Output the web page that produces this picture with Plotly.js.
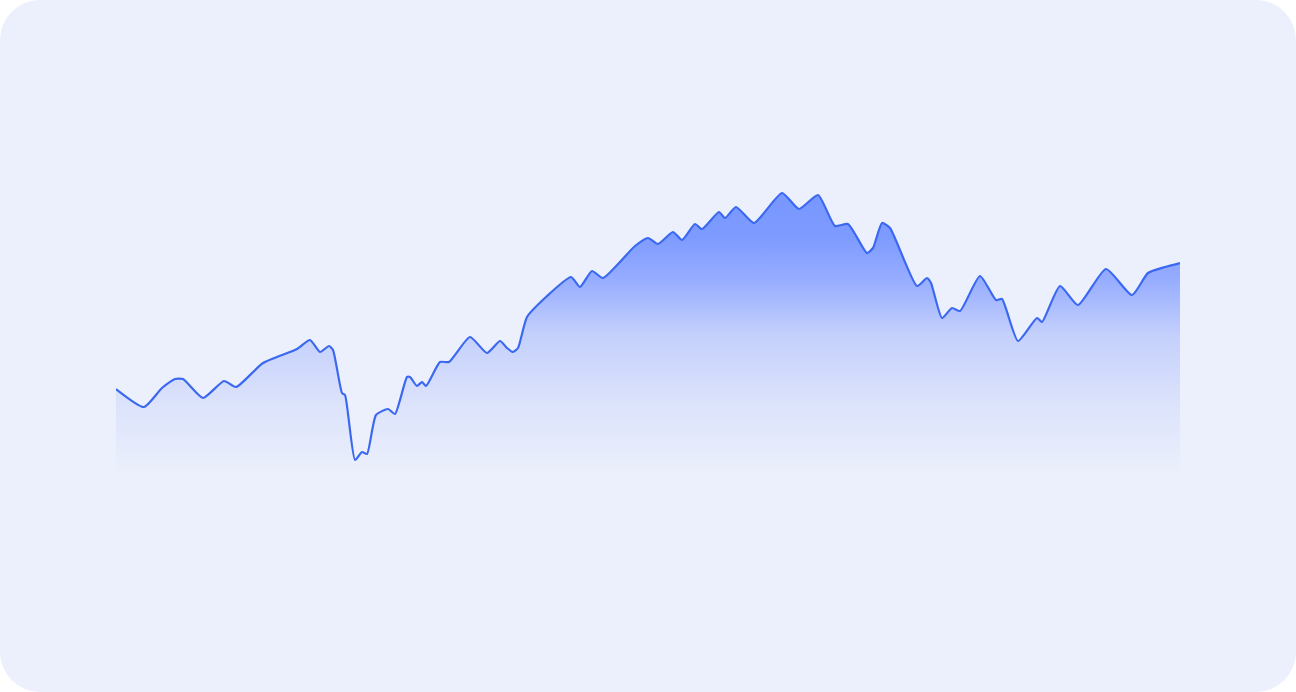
<!DOCTYPE html>
<html>
<head>
<meta charset="utf-8">
<script src="https://cdn.plot.ly/plotly-3.0.1.min.js"></script>
<style>
  html, body { margin: 0; padding: 0; background: #ffffff; }
  #card {
    width: 1296px; height: 692px;
    border-radius: 40px;
    background: #ECF0FC;
    overflow: hidden;
  }
  #plot { width: 1296px; height: 692px; }
</style>
</head>
<body>
<div id="card"><div id="plot"></div></div>
<script>
// time steps (irregular) and series values
const steps = [0, 14, 23, 29.5, 33.5, 43.5, 54, 60, 73.5, 90.5, 97, 102, 106.5, 108.5,
  113, 114.5, 119.5, 123, 125.5, 130, 136, 139.5, 145.5, 147, 150.5, 153, 155, 162,
  166.5, 177, 185.5, 192, 195.5, 198.5, 201, 205.5, 215, 227.5, 232, 238, 243.5,
  259.5, 266, 271, 278.5, 283, 289.5, 293, 301.5, 304.5, 310, 319, 333, 341.5, 351,
  359.5, 366, 375.5, 378.5, 383, 387, 400.5, 405.5, 407.5, 413, 418, 422, 432, 440,
  443, 451, 460.5, 463, 472, 481, 495, 508, 516, 524.5, 532];

const values = [43, 34, 43.5, 48, 48, 38.5, 47, 44, 56, 63, 67.5, 61.5, 64.5, 62.5,
  41, 40, 7.5, 11.5, 10.5, 30, 33, 30.5, 49, 49, 44.5, 46.5, 44.5, 56.5,
  56.5, 69, 61, 67, 63.5, 61.5, 63.5, 79, 89, 99, 94, 102, 98.5,
  114.5, 118.5, 115.5, 121.5, 117.5, 125.5, 123, 131.5, 128.5, 134, 126, 141, 133, 140,
  124.5, 125.5, 111, 113.5, 126, 123.5, 94.5, 98.5, 96, 78.5, 83.5, 82, 99.5, 87.5,
  88, 67, 78.5, 76.5, 94.5, 85, 103, 90, 101, 104, 106];

const trace = {
  x: steps,
  y: values,
  type: 'scatter',
  mode: 'lines',
  line: { color: '#3B68F1', width: 2.2, shape: 'spline', smoothing: 0.55 },
  fill: 'tozeroy',
  fillgradient: {
    type: 'vertical',
    start: 0,
    stop: 140,
    colorscale: [
      [0, 'rgba(236,240,252,1)'],
      [0.25, 'rgba(220,227,251,1)'],
      [0.5, 'rgba(196,208,252,1)'],
      [0.7, 'rgba(150,172,255,1)'],
      [0.85, 'rgba(125,155,255,1)'],
      [1, 'rgba(120,151,255,1)']
    ]
  },
  hoverinfo: 'skip'
};

const layout = {
  width: 1296,
  height: 692,
  margin: { l: 116, r: 116, t: 155, b: 217 },
  paper_bgcolor: 'rgba(0,0,0,0)',
  plot_bgcolor: 'rgba(0,0,0,0)',
  showlegend: false,
  xaxis: { range: [0, 532], visible: false, fixedrange: true },
  yaxis: { range: [0, 160], visible: false, fixedrange: true }
};

Plotly.newPlot('plot', [trace], layout, { displayModeBar: false, staticPlot: true });
</script>
</body>
</html>
